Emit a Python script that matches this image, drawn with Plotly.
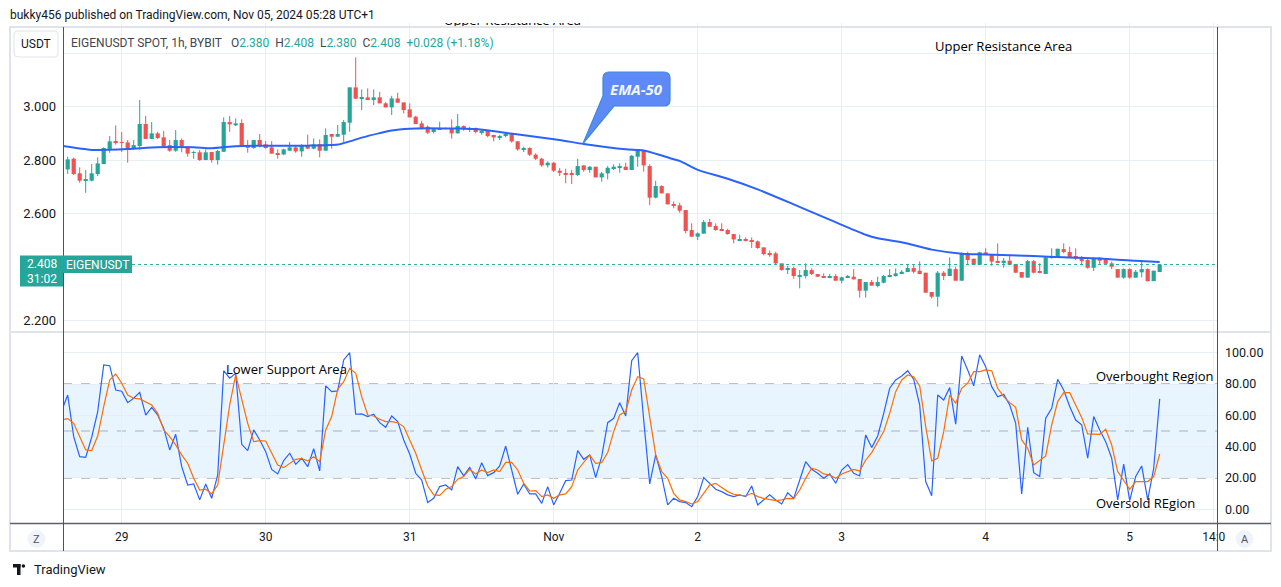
import plotly.graph_objects as go
import pandas as pd

W, H = 1281, 587

# ---------------- data ----------------
first_bar = "2024-10-28 15:00"   # 1h bars

opens = [2.765, 2.805, 2.75, 2.725, 2.7225, 2.7475, 2.785, 2.84, 2.87, 2.8675,
         2.866, 2.845, 2.8525, 2.935, 2.879, 2.90, 2.885, 2.856, 2.835, 2.875,
         2.85, 2.8275, 2.829, 2.80, 2.83, 2.80, 2.831, 2.9425, 2.93, 2.939,
         2.854, 2.845, 2.875, 2.859, 2.8475, 2.826, 2.821, 2.835, 2.8475, 2.8325,
         2.856, 2.8425, 2.86, 2.835, 2.894, 2.8875, 2.895, 2.94, 3.0725, 3.03,
         3.035, 3.025, 3.035, 3.0125, 2.9975, 3.031, 3.016, 2.99, 2.9625, 2.9375,
         2.925, 2.905, 2.916, 2.917, 2.92, 2.90, 2.9275, 2.915, 2.92, 2.905,
         2.91, 2.892, 2.885, 2.89, 2.898, 2.87, 2.84, 2.845, 2.82, 2.805,
         2.78, 2.79, 2.76, 2.75, 2.75, 2.744, 2.78, 2.7625, 2.775, 2.735,
         2.75, 2.769, 2.771, 2.775, 2.7625, 2.8125, 2.834, 2.7775, 2.659, 2.7025,
         2.675, 2.634, 2.63, 2.6125, 2.5375, 2.5125, 2.524, 2.5675, 2.5525, 2.54,
         2.5375, 2.5225, 2.50, 2.5035, 2.4975, 2.495, 2.4725, 2.45, 2.45, 2.4125,
         2.39, 2.395, 2.365, 2.365, 2.3875, 2.3725, 2.365, 2.36, 2.365, 2.3475,
         2.359, 2.3625, 2.354, 2.31, 2.3425, 2.3275, 2.34, 2.3625, 2.365, 2.375,
         2.38, 2.395, 2.385, 2.3775, 2.305, 2.2875, 2.3775, 2.365, 2.391, 2.3475,
         2.45, 2.43, 2.4075, 2.454, 2.4475, 2.421, 2.4175, 2.4225, 2.41, 2.38,
         2.359, 2.421, 2.381, 2.3725, 2.4325, 2.435, 2.466, 2.455, 2.44, 2.434,
         2.425, 2.396, 2.434, 2.4275, 2.4125, 2.391, 2.359, 2.391, 2.359, 2.379,
         2.391, 2.346, 2.380]
highs = [2.8125, 2.809, 2.7725, 2.7625, 2.785, 2.81, 2.8475, 2.89, 2.93, 2.905,
         2.875, 2.875, 3.025, 2.966, 2.9425, 2.906, 2.909, 2.875, 2.9125, 2.881,
         2.85, 2.835, 2.8375, 2.84, 2.83, 2.8375, 2.96, 2.965, 2.956, 2.9525,
         2.875, 2.875, 2.8975, 2.871, 2.871, 2.84, 2.8425, 2.8675, 2.855, 2.86,
         2.895, 2.881, 2.8775, 2.919, 2.8975, 2.931, 2.95, 3.0725, 3.185, 3.065,
         3.069, 3.065, 3.056, 3.0175, 3.041, 3.0525, 3.016, 3.0125, 2.966, 2.9475,
         2.93, 2.9175, 2.944, 2.9225, 2.9525, 2.9725, 2.93, 2.925, 2.922, 2.915,
         2.912, 2.895, 2.895, 2.905, 2.90, 2.872, 2.85, 2.848, 2.825, 2.808,
         2.795, 2.792, 2.77, 2.7675, 2.7625, 2.805, 2.78, 2.7775, 2.775, 2.755,
         2.7775, 2.784, 2.7875, 2.79, 2.819, 2.8375, 2.8375, 2.784, 2.7225, 2.705,
         2.675, 2.645, 2.64, 2.6125, 2.5625, 2.529, 2.575, 2.579, 2.5625, 2.5625,
         2.5425, 2.5225, 2.52, 2.51, 2.51, 2.4985, 2.4725, 2.4615, 2.456, 2.4125,
         2.4025, 2.40, 2.3875, 2.4125, 2.394, 2.3725, 2.375, 2.3725, 2.3725, 2.3625,
         2.369, 2.391, 2.354, 2.3425, 2.35, 2.3625, 2.369, 2.391, 2.394, 2.3875,
         2.41, 2.406, 2.42, 2.3775, 2.305, 2.384, 2.384, 2.435, 2.40, 2.454,
         2.456, 2.43, 2.456, 2.469, 2.4475, 2.4875, 2.4325, 2.444, 2.41, 2.38,
         2.425, 2.425, 2.4125, 2.44, 2.469, 2.4675, 2.4875, 2.475, 2.469, 2.44,
         2.43, 2.435, 2.435, 2.431, 2.419, 2.391, 2.394, 2.394, 2.3875, 2.419,
         2.394, 2.385, 2.408]
lows = [2.7475, 2.744, 2.715, 2.6775, 2.72, 2.74, 2.785, 2.8275, 2.858, 2.83,
        2.79, 2.84, 2.84, 2.879, 2.879, 2.879, 2.85, 2.831, 2.831, 2.829,
        2.8125, 2.805, 2.797, 2.80, 2.79, 2.7825, 2.831, 2.906, 2.9275, 2.85,
        2.8275, 2.8425, 2.8475, 2.8425, 2.824, 2.805, 2.819, 2.835, 2.8275, 2.8125,
        2.8425, 2.84, 2.81, 2.835, 2.8425, 2.8875, 2.8675, 2.906, 3.03, 2.9875,
        3.025, 3.006, 3.0125, 2.9975, 2.969, 3.015, 2.975, 2.96, 2.935, 2.915,
        2.8975, 2.90, 2.916, 2.915, 2.88, 2.90, 2.91, 2.905, 2.90, 2.895,
        2.885, 2.87, 2.875, 2.885, 2.865, 2.835, 2.83, 2.815, 2.80, 2.775,
        2.772, 2.755, 2.74, 2.7125, 2.71, 2.74, 2.756, 2.7525, 2.735, 2.719,
        2.7275, 2.7625, 2.7525, 2.7625, 2.7625, 2.775, 2.7565, 2.631, 2.656, 2.675,
        2.634, 2.619, 2.6025, 2.525, 2.5125, 2.50, 2.524, 2.55, 2.535, 2.535,
        2.52, 2.4875, 2.4985, 2.495, 2.47, 2.4675, 2.4425, 2.4375, 2.409, 2.385,
        2.3725, 2.355, 2.319, 2.356, 2.369, 2.3625, 2.3575, 2.357, 2.3475, 2.3375,
        2.357, 2.3525, 2.284, 2.284, 2.329, 2.3225, 2.3375, 2.36, 2.3625, 2.3725,
        2.38, 2.375, 2.3725, 2.3025, 2.281, 2.25, 2.35, 2.365, 2.3475, 2.3475,
        2.41, 2.4075, 2.4075, 2.445, 2.404, 2.4175, 2.396, 2.4075, 2.3775, 2.359,
        2.359, 2.375, 2.375, 2.3725, 2.43, 2.4325, 2.45, 2.435, 2.425, 2.405,
        2.3925, 2.384, 2.409, 2.409, 2.391, 2.359, 2.355, 2.355, 2.359, 2.36,
        2.344, 2.346, 2.380]
closes = [2.8025, 2.7475, 2.7225, 2.728, 2.75, 2.7875, 2.845, 2.87, 2.866, 2.864,
          2.845, 2.856, 2.935, 2.879, 2.90, 2.8825, 2.85, 2.835, 2.875, 2.85,
          2.824, 2.8295, 2.80, 2.829, 2.80, 2.834, 2.9425, 2.934, 2.9375, 2.854,
          2.846, 2.875, 2.856, 2.845, 2.824, 2.821, 2.84, 2.8475, 2.8325, 2.855,
          2.8425, 2.859, 2.835, 2.894, 2.8875, 2.8975, 2.9425, 3.0725, 3.03, 3.035,
          3.025, 3.035, 3.0125, 2.9975, 3.031, 3.015, 2.9875, 2.96, 2.935, 2.92,
          2.9025, 2.9175, 2.92, 2.92, 2.90, 2.9275, 2.915, 2.92, 2.905, 2.91,
          2.89, 2.885, 2.89, 2.898, 2.87, 2.84, 2.845, 2.82, 2.805, 2.78,
          2.79, 2.76, 2.752, 2.746, 2.746, 2.7775, 2.7625, 2.775, 2.735, 2.75,
          2.771, 2.775, 2.775, 2.7625, 2.816, 2.834, 2.78, 2.659, 2.7025, 2.675,
          2.634, 2.63, 2.61, 2.534, 2.5125, 2.525, 2.5675, 2.55, 2.5375, 2.535,
          2.5225, 2.5025, 2.5035, 2.4975, 2.495, 2.47, 2.4475, 2.444, 2.4125, 2.3875,
          2.395, 2.365, 2.369, 2.3875, 2.3725, 2.3625, 2.36, 2.365, 2.3475, 2.36,
          2.362, 2.3525, 2.31, 2.3425, 2.329, 2.3425, 2.365, 2.369, 2.375, 2.381,
          2.395, 2.381, 2.3725, 2.3025, 2.2875, 2.3775, 2.365, 2.3925, 2.3475, 2.45,
          2.425, 2.4075, 2.454, 2.445, 2.419, 2.4175, 2.4225, 2.4075, 2.3775, 2.359,
          2.421, 2.3775, 2.3775, 2.435, 2.44, 2.4675, 2.455, 2.435, 2.43, 2.421,
          2.396, 2.431, 2.4225, 2.411, 2.40, 2.359, 2.391, 2.359, 2.381, 2.391,
          2.346, 2.385, 2.408]

# EMA-50 read at these bar indices
ema_bar = [-1, 4, 10, 15, 21, 24, 28, 32, 40, 45, 47, 49, 52, 54, 57, 60, 65, 68, 72, 77,
           82, 86, 93, 96, 99, 101, 102, 105, 110, 115, 121, 126, 129, 133, 135, 139,
           144, 149, 153, 161, 166, 172, 178, 182]
ema_value = [2.853, 2.838, 2.841, 2.848, 2.8475, 2.844, 2.852, 2.854, 2.854, 2.858, 2.87,
             2.884, 2.901, 2.911, 2.9175, 2.919, 2.918, 2.916, 2.905, 2.89, 2.875, 2.86,
             2.84, 2.836, 2.817, 2.803, 2.797, 2.763, 2.73, 2.69, 2.634, 2.586, 2.557,
             2.52, 2.507, 2.492, 2.464, 2.449, 2.446, 2.44, 2.435, 2.431, 2.422, 2.4175]

# Stochastic %K / %D, first value belongs to bar index -1
stoch_first_bar = -1
stoch_k = [63.0,
           73.0, 46.4, 33.6, 33.2, 46.0, 62.4, 92.2, 91.7, 76.2, 75.4,
           68.1, 70.9, 74.7, 60.2, 65.1, 60.2, 51.7, 37.9, 47.9, 27.2,
           15.5, 16.2, 6.0, 16.2, 7.0, 21.9, 88.5, 83.7, 86.8, 41.5,
           37.5, 50.7, 44.3, 36.8, 25.5, 22.6, 31.1, 35.8, 28.7, 32.6,
           27.2, 38.7, 24.5, 78.8, 75.1, 75.6, 95.4, 100.0, 60.7, 60.9,
           59.2, 60.7, 55.3, 52.4, 59.6, 56.0, 44.3, 35.3, 23.0, 18.7,
           4.3, 7.0, 14.5, 15.5, 12.3, 27.2, 21.3, 26.8, 19.4, 29.8,
           21.5, 23.4, 27.7, 40.4, 25.1, 9.6, 16.2, 9.8, 9.8, 3.8,
           14.5, 2.8, 10.2, 18.3, 18.7, 37.5, 31.9, 34.7, 20.2, 33.6,
           55.3, 58.1, 68.1, 59.6, 94.9, 100.0, 57.0, 16.2, 34.7, 20.9,
           2.8, 7.0, 4.9, 4.3, 1.7, 8.1, 20.2, 16.6, 12.8, 11.3,
           9.2, 8.1, 9.2, 8.1, 14.9, 2.8, 6.0, 9.2, 6.0, 3.4,
           10.6, 7.0, 18.7, 30.4, 25.5, 23.0, 19.8, 22.6, 16.6, 25.1,
           28.5, 23.0, 21.3, 47.5, 39.4, 46.8, 61.3, 77.3, 82.6, 85.1,
           88.5, 83.0, 66.6, 17.7, 8.7, 73.0, 69.8, 77.7, 54.3, 97.9,
           89.0, 78.8, 98.6, 91.1, 78.3, 71.9, 73.4, 66.6, 54.9, 9.8,
           52.4, 23.4, 20.9, 58.1, 64.5, 83.0, 76.2, 65.6, 57.0, 53.9,
           32.6, 59.2, 50.7, 43.2, 32.6, 6.0, 28.9, 5.5, 20.9, 27.7,
           6.0, 26.2, 70.5]
stoch_d = [57.0,
           57.9, 54.9, 46.4, 37.9, 37.5, 46.8, 65.6, 82.6, 86.4, 80.5,
           73.0, 70.9, 70.5, 68.8, 66.6, 61.3, 50.7, 46.4, 41.1, 34.7,
           29.4, 19.8, 12.3, 12.8, 9.8, 15.5, 42.1, 66.6, 85.8, 69.8,
           54.9, 43.2, 43.8, 43.6, 35.8, 28.3, 26.6, 29.4, 31.9, 32.4,
           30.9, 33.6, 30.4, 50.7, 59.2, 76.6, 81.5, 90.0, 86.8, 71.9,
           60.2, 59.6, 57.5, 56.0, 56.0, 55.3, 52.8, 44.3, 35.8, 25.1,
           14.9, 9.2, 8.9, 12.8, 14.5, 19.2, 20.9, 25.5, 22.6, 25.1,
           23.4, 25.1, 24.1, 30.0, 30.0, 25.1, 16.6, 11.7, 11.9, 8.1,
           9.2, 7.0, 9.2, 9.8, 14.5, 25.1, 29.8, 34.7, 29.4, 29.8,
           36.2, 49.6, 60.2, 62.4, 76.2, 84.7, 83.2, 59.2, 34.7, 24.1,
           19.8, 10.2, 6.0, 4.9, 3.4, 4.9, 10.6, 15.5, 16.6, 14.0,
           11.3, 9.6, 9.2, 8.5, 10.2, 8.1, 7.0, 6.4, 5.5, 6.0,
           7.0, 6.8, 12.3, 19.8, 26.2, 25.1, 22.6, 21.9, 19.8, 22.6,
           24.0, 25.5, 24.5, 31.5, 36.2, 43.2, 49.6, 61.3, 75.1, 82.6,
           85.8, 84.7, 78.8, 52.8, 30.9, 32.6, 49.6, 73.0, 67.7, 77.3,
           80.5, 87.9, 87.9, 89.0, 88.5, 77.3, 71.9, 68.1, 65.1, 44.3,
           39.0, 28.3, 31.5, 34.1, 53.9, 68.8, 74.5, 74.5, 66.6, 58.7,
           48.1, 47.9, 47.9, 51.1, 41.1, 24.1, 18.7, 12.8, 17.7, 17.7,
           17.7, 20.9, 35.3]

date_ticks = ["2024-10-29", "2024-10-30", "2024-10-31", "2024-11-01", "2024-11-02",
              "2024-11-03", "2024-11-04", "2024-11-05", "2024-11-05 14:00"]
date_labels = ["29", "30", "31", "Nov", "2", "3", "4", "5", "14:0"]
price_ticks = [2.2, 2.4, 2.6, 2.8, 3.0, 3.2]
price_labels = ["2.200", "", "2.600", "2.800", "3.000", ""]
stoch_ticks = [0, 20, 40, 60, 80, 100]
stoch_labels = ["0.00", "20.00", "40.00", "60.00", "80.00", "100.00"]
last_price = 2.408

# ---------------- geometry ----------------
X_L, X_R = 63, 1217          # plot area (px)
TOP0, TOP1 = 23, 331         # price pane clip area (px); visible frame starts at 27
BOT0, BOT1 = 333, 523        # stochastic pane (px)
BAR0_PX, HOUR_PX = 67.7, 6.0
PRICE_RANGE = [2.1589, 3.3139]
STOCH_RANGE = [-8.75, 112.58]

t0 = pd.Timestamp(first_bar)


def tx(xpx):
    return t0 + pd.Timedelta(hours=(xpx - BAR0_PX) / HOUR_PX)


def price_at(ypx):
    return PRICE_RANGE[1] - (ypx - TOP0) / (TOP1 - TOP0) * (PRICE_RANGE[1] - PRICE_RANGE[0])


def px(x):
    return x / W


def py(y):
    return 1 - y / H


UP, DN = "#26a69a", "#ef5350"
GRID = "#e9eef4"
TXT = "#131722"
FONT = "Roboto"

fig = go.Figure()

n = len(opens)
times = [t0 + pd.Timedelta(hours=i) for i in range(n)]

for is_up, color in ((True, UP), (False, DN)):
    idx = [i for i in range(n) if (closes[i] >= opens[i]) == is_up]
    wx, wy = [], []
    for i in idx:
        wx += [times[i], times[i], None]
        wy += [lows[i], highs[i], None]
    fig.add_trace(go.Bar(
        x=[times[i] for i in idx], base=[opens[i] for i in idx],
        y=[closes[i] - opens[i] for i in idx], width=0.7 * 3600 * 1000,
        marker=dict(color=color, line=dict(width=0)), hoverinfo="skip",
        xaxis="x", yaxis="y"))
    fig.add_trace(go.Scatter(x=wx, y=wy, mode="lines", line=dict(color=color, width=1),
                             hoverinfo="skip", xaxis="x", yaxis="y"))

# EMA-50
fig.add_trace(go.Scatter(
    x=[t0 + pd.Timedelta(hours=b) for b in ema_bar], y=ema_value, mode="lines",
    line=dict(color="#2962ff", width=2, shape="spline", smoothing=0.6),
    hoverinfo="skip", xaxis="x", yaxis="y"))

# clipped drawing text at the very top of the price pane
fig.add_trace(go.Scatter(
    x=[tx(512.5)], y=[price_at(21.5)], mode="text", text=["Upper Resistance Area"],
    textfont=dict(family="Open Sans", size=13, color="#000000"), cliponaxis=True,
    hoverinfo="skip", xaxis="x", yaxis="y"))

# Stochastic
stimes = [t0 + pd.Timedelta(hours=stoch_first_bar + i) for i in range(len(stoch_k))]
fig.add_trace(go.Scatter(x=stimes, y=stoch_k, mode="lines", line=dict(color="#2962ff", width=1.2),
                         hoverinfo="skip", xaxis="x2", yaxis="y2"))
fig.add_trace(go.Scatter(x=stimes, y=stoch_d, mode="lines", line=dict(color="#ff6d00", width=1.2),
                         hoverinfo="skip", xaxis="x2", yaxis="y2"))

xrange = [tx(X_L), tx(X_R)]
common_x = dict(type="date", range=xrange, tickmode="array", tickvals=date_ticks,
                ticktext=date_labels, showgrid=True, gridcolor=GRID, gridwidth=1,
                zeroline=False, showline=False, ticks="", fixedrange=True, automargin=False)

shapes = []


def rect(x0, y0, x1, y1, fill, line=None, lw=0, layer="above"):
    shapes.append(dict(type="rect", xref="paper", yref="paper", x0=px(x0), x1=px(x1),
                       y0=py(y1), y1=py(y0), fillcolor=fill,
                       line=dict(color=line or fill, width=lw), layer=layer))


def hline(x0, x1, y, color, width=1, dash="solid"):
    shapes.append(dict(type="line", xref="paper", yref="paper", x0=px(x0), x1=px(x1),
                       y0=py(y), y1=py(y), line=dict(color=color, width=width, dash=dash),
                       layer="above"))


def vline(x, y0, y1, color, width=1):
    shapes.append(dict(type="line", xref="paper", yref="paper", x0=px(x), x1=px(x),
                       y0=py(y0), y1=py(y1), line=dict(color=color, width=width), layer="above"))


def path(points, fill, line, lw=1):
    d = ""
    for cmd, pts in points:
        d += cmd + " ".join(f"{px(a):.5f},{py(b):.5f}" for a, b in pts) + " "
    shapes.append(dict(type="path", xref="paper", yref="paper", path=d + "Z",
                       fillcolor=fill, line=dict(color=line, width=lw), layer="above"))


# stochastic band and levels
shapes.append(dict(type="rect", xref="paper", yref="y2", x0=px(X_L), x1=px(X_R), y0=20, y1=80,
                   fillcolor="rgba(33,150,243,0.1)", line=dict(width=0), layer="below"))
for lvl, col in ((80, "#787b86"), (50, "rgba(120,123,134,0.55)"), (20, "#787b86")):
    shapes.append(dict(type="line", xref="paper", yref="y2", x0=px(X_L), x1=px(X_R), y0=lvl, y1=lvl,
                       line=dict(color=col, width=1, dash="dash"), layer="between"))

# last-price dotted line
shapes.append(dict(type="line", xref="paper", yref="y", x0=px(132), x1=px(X_R),
                   y0=last_price, y1=last_price, line=dict(color=UP, width=1, dash="dot"),
                   layer="above"))

# cover grid stubs above the visible frame (behind traces)
shapes.append(dict(type="rect", xref="paper", yref="paper", x0=px(X_L), x1=px(X_R),
                   y0=py(27), y1=py(TOP0), fillcolor="#ffffff", line=dict(width=0), layer="between"))

# frame
FRAME = "#e0e3eb"
rect(10, 27, 1271, 551, "rgba(0,0,0,0)", FRAME, 2)
hline(10, 1271, 332, FRAME, 2)
hline(10, 1271, 523.5, "#5d606b", 1.5)
vline(63.5, 27, 551, "#50535e", 1)
vline(1217.5, 27, 551, "#50535e", 1)

# USDT box
path([("M", [(18, 31)]), ("L", [(54, 31)]), ("Q", [(58, 31), (58, 35)]), ("L", [(58, 53)]),
      ("Q", [(58, 57), (54, 57)]), ("L", [(18, 57)]), ("Q", [(14, 57), (14, 53)]),
      ("L", [(14, 35)]), ("Q", [(14, 31), (18, 31)])], "#ffffff", "#e0e3eb", 1)

# price labels
rect(20, 255.5, 63, 286.5, UP)
rect(63, 255.5, 132, 273, UP)

# EMA-50 callout
path([("M", [(609, 72)]), ("L", [(664, 72)]), ("Q", [(670, 72), (670, 78)]),
      ("L", [(670, 100)]), ("Q", [(670, 106), (664, 106)]), ("L", [(614, 106)]),
      ("L", [(583, 143.5)]), ("L", [(603, 96)]), ("L", [(603, 78)]),
      ("Q", [(603, 72), (609, 72)])], "#5d8af6", "#3d8ad8", 1.2)

# Z / A buttons
for cx in (36.5, 1244.5):
    shapes.append(dict(type="circle", xref="paper", yref="paper", x0=px(cx - 9), x1=px(cx + 9),
                       y0=py(548), y1=py(530), fillcolor="#f0f3fa", line=dict(width=0),
                       layer="above"))

# TradingView logo
rect(13, 564, 20.5, 567.5, "#131722")
rect(17, 564, 20.5, 575, "#131722")
shapes.append(dict(type="circle", xref="paper", yref="paper", x0=px(21.6), x1=px(25.2),
                   y0=py(567.8), y1=py(564.2), fillcolor="#131722", line=dict(width=0)))
path([("M", [(22.5, 575)]), ("L", [(26.8, 564), (30.2, 564), (25.9, 575)])], "#131722", "#131722", 0)

annotations = []


def ann(text, x, y, size=12, color=TXT, family=FONT, xanchor="center"):
    annotations.append(dict(text=text, x=px(x), y=py(y), xref="paper", yref="paper",
                            xanchor=xanchor, yanchor="middle", showarrow=False,
                            font=dict(size=size, color=color, family=family)))


ann("bukky456 published on TradingView.com, Nov 05, 2024 05:28 UTC+1", 8, 15, 12, xanchor="left")
sp = "\u00a0"
g = lambda s: f"<span style='color:{UP}'>{s}</span>"
legend = ("EIGENUSDT SPOT, 1h, BYBIT" + sp * 3 + "O" + g("2.380") + sp * 2 + "H" + g("2.408") +
          sp * 2 + "L" + g("2.380") + sp * 2 + "C" + g("2.408") + sp * 2 + g("+0.028 (+1.18%)"))
ann(legend, 69, 43, 12, color="#434651", xanchor="left")
ann("USDT", 36, 44, 12)
ann("2.408", 41.5, 264, 12, "#ffffff")
ann("31:02", 41.5, 279, 12, "#ffffff")
ann("EIGENUSDT", 97.5, 264.5, 12, "#ffffff")
ann("<b><i>EMA-50</i></b>", 636.5, 89, 15, "#f3f6ff", "Open Sans")
ann("Upper Resistance Area", 1003, 46, 13, "#000000", "Open Sans")
ann("Lower Support Area", 286.5, 369, 13, "#000000", "Open Sans")
ann("Overbought Region", 1154, 376, 13, "#000000", "Open Sans")
ann("Oversold REgion", 1145, 503, 13, "#000000", "Open Sans")
ann("Z", 36.5, 539, 11, "#50535e")
ann("A", 1244.5, 539, 11, "#50535e")
ann("TradingView", 32, 569.5, 13, TXT, xanchor="left")

fig.update_layout(
    template=None,
    width=W, height=H, autosize=False, margin=dict(l=0, r=0, t=0, b=0, pad=0, autoexpand=False),
    paper_bgcolor="#ffffff", plot_bgcolor="#ffffff",
    showlegend=False, barmode="overlay", hovermode=False,
    font=dict(family=FONT, size=12, color=TXT),
    xaxis=dict(domain=[px(X_L), px(X_R)], anchor="y", showticklabels=False, **common_x),
    xaxis2=dict(domain=[px(X_L), px(X_R)], anchor="y2", showticklabels=True,
                tickfont=dict(family=FONT, size=12, color=TXT), ticklabelstandoff=5, **common_x),
    yaxis=dict(domain=[py(TOP1), py(TOP0)], anchor="x", range=PRICE_RANGE, side="left",
               tickmode="array", tickvals=price_ticks, ticktext=price_labels,
               showgrid=True, gridcolor=GRID, zeroline=False, showline=False, ticks="",
               ticklabelstandoff=6, tickfont=dict(family=FONT, size=13, color=TXT),
               fixedrange=True, automargin=False),
    yaxis2=dict(domain=[py(BOT1), py(BOT0)], anchor="x2", range=STOCH_RANGE, side="right",
                tickmode="array", tickvals=stoch_ticks, ticktext=stoch_labels,
                showgrid=True, gridcolor=GRID, zeroline=False, showline=False, ticks="",
                ticklabelstandoff=7, tickfont=dict(family=FONT, size=12.5, color=TXT),
                fixedrange=True, automargin=False),
    shapes=shapes, annotations=annotations,
)

fig.write_html("out.html", config={"displayModeBar": False, "responsive": False})
